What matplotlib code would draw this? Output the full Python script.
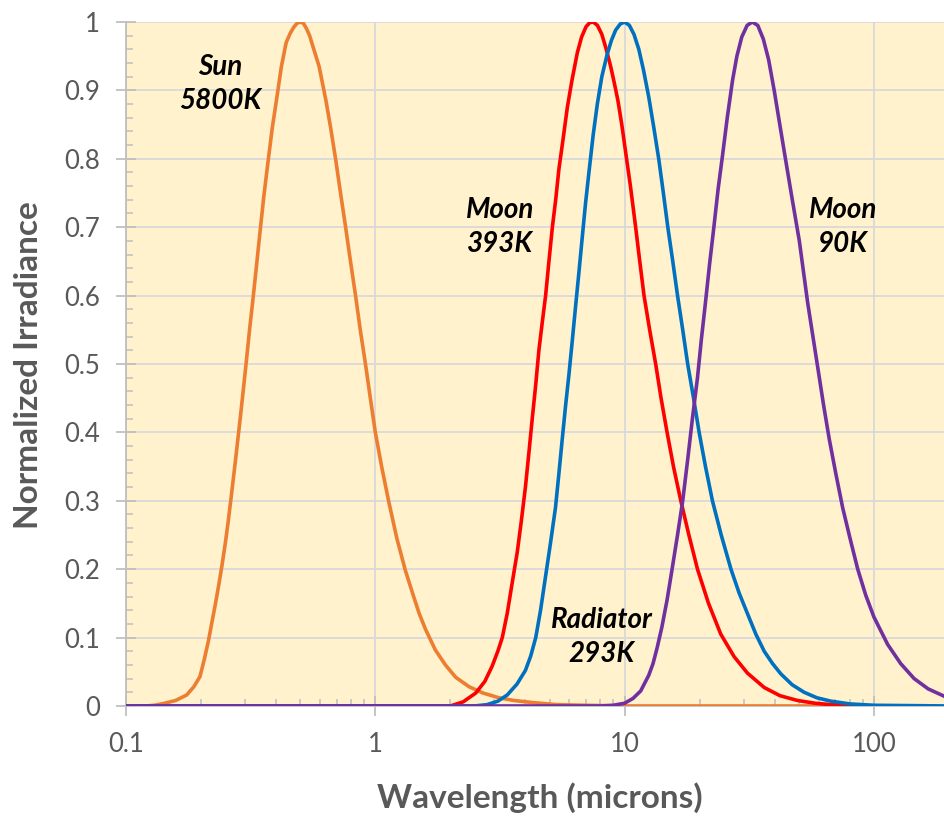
import matplotlib.pyplot as plt
from matplotlib.ticker import FixedLocator, NullFormatter

# normalized blackbody curves, wavelength in microns
sun_wl = [0.10, 0.12, 0.13, 0.143, 0.158, 0.175, 0.187, 0.198, 0.206, 0.214,
          0.221, 0.228, 0.235, 0.242, 0.25, 0.257, 0.265, 0.275, 0.286, 0.295,
          0.304, 0.313, 0.323, 0.334, 0.344, 0.357, 0.371, 0.386, 0.401, 0.42,
          0.439, 0.455, 0.47, 0.485, 0.50, 0.515, 0.53, 0.545, 0.56, 0.595,
          0.633, 0.66, 0.694, 0.725, 0.76, 0.795, 0.833, 0.87, 0.913, 0.955,
          1.0, 1.06, 1.13, 1.22, 1.32, 1.41, 1.5, 1.59, 1.74, 1.91,
          2.1, 2.38, 2.7, 3.13, 3.6, 4.27, 5.3, 7.0, 10.0, 30.0, 100.0]
sun_val = [0.0, 0.0, 0.001, 0.004, 0.008, 0.016, 0.028, 0.043, 0.068, 0.095,
           0.122, 0.148, 0.175, 0.203, 0.237, 0.27, 0.31, 0.36, 0.415, 0.46,
           0.505, 0.55, 0.595, 0.645, 0.69, 0.745, 0.795, 0.845, 0.885, 0.935,
           0.97, 0.983, 0.992, 0.998, 1.0, 0.998, 0.99, 0.98, 0.966, 0.935,
           0.886, 0.848, 0.798, 0.75, 0.70, 0.65, 0.60, 0.55, 0.50, 0.45,
           0.40, 0.35, 0.30, 0.245, 0.198, 0.165, 0.135, 0.112, 0.082, 0.06,
           0.042, 0.028, 0.019, 0.012, 0.008, 0.005, 0.002, 0.001, 0.0, 0.0, 0.0]

moon393_wl = [0.10, 2.0, 2.25, 2.53, 2.75, 2.94, 3.1, 3.23, 3.38, 3.54,
              3.71, 3.85, 4.0, 4.13, 4.26, 4.4, 4.53, 4.67, 4.82, 4.97,
              5.13, 5.29, 5.45, 5.67, 5.89, 6.15, 6.46, 6.72, 7.0, 7.24,
              7.48, 7.78, 8.1, 8.44, 8.79, 9.1, 9.40, 9.74, 10.09, 10.55,
              11.07, 11.5, 11.96, 12.6, 13.32, 14.0, 14.8, 15.7, 16.8, 18.1,
              19.6, 21.7, 24.3, 27.5, 31.1, 36.3, 42.0, 49.4, 58.0, 67.0,
              80.0, 100.0]
moon393_val = [0.0, 0.0, 0.006, 0.019, 0.036, 0.058, 0.08, 0.10, 0.135, 0.18,
               0.225, 0.27, 0.32, 0.37, 0.42, 0.47, 0.52, 0.56, 0.60, 0.65,
               0.70, 0.74, 0.785, 0.83, 0.875, 0.915, 0.955, 0.978, 0.993, 0.999,
               1.0, 0.995, 0.982, 0.96, 0.935, 0.91, 0.885, 0.85, 0.81, 0.76,
               0.70, 0.65, 0.60, 0.55, 0.50, 0.45, 0.40, 0.35, 0.30, 0.25,
               0.20, 0.15, 0.105, 0.072, 0.048, 0.027, 0.015, 0.008, 0.004, 0.002,
               0.001, 0.0]

radiator_wl = [0.10, 2.5, 2.81, 3.1, 3.38, 3.7, 4.0, 4.2, 4.40, 4.6,
               4.82, 5.05, 5.28, 5.45, 5.62, 5.8, 5.98, 6.17, 6.36, 6.56,
               6.76, 6.97, 7.19, 7.48, 7.77, 8.1, 8.5, 8.85, 9.2, 9.6,
               10.0, 10.45, 10.9, 11.4, 11.9, 12.5, 13.1, 13.7, 14.3, 14.9,
               15.6, 16.3, 17.1, 17.9, 18.9, 19.9, 21.1, 22.5, 24.4, 26.7,
               28.8, 31.1, 33.6, 36.3, 39.2, 42.3, 47.0, 52.5, 59.0, 67.2,
               80.0, 100.0, 200.0]
radiator_val = [0.0, 0.0, 0.002, 0.007, 0.016, 0.032, 0.052, 0.073, 0.10, 0.14,
                0.19, 0.24, 0.29, 0.34, 0.39, 0.44, 0.485, 0.535, 0.585, 0.635,
                0.685, 0.735, 0.78, 0.835, 0.88, 0.92, 0.952, 0.973, 0.988, 0.997,
                1.0, 0.995, 0.982, 0.96, 0.93, 0.89, 0.845, 0.80, 0.75, 0.70,
                0.65, 0.60, 0.55, 0.50, 0.45, 0.40, 0.35, 0.30, 0.25, 0.20,
                0.165, 0.135, 0.105, 0.08, 0.062, 0.047, 0.031, 0.020, 0.012, 0.007,
                0.003, 0.001, 0.0]

moon90_wl = [0.10, 8.0, 9.0, 10.0, 10.8, 11.6, 12.5, 13.0, 13.5, 14.1,
             14.8, 15.5, 16.3, 17.1, 17.9, 18.7, 19.6, 20.3, 21.1, 21.9,
             22.8, 23.7, 24.7, 25.8, 27.1, 28.2, 29.5, 31.0, 32.5, 34.2,
             36.0, 37.8, 39.8, 41.7, 43.7, 46.8, 50.2, 54.2, 59.8, 62.8,
             66.2, 70.3, 74.9, 80.2, 86.1, 92.7, 100.0, 113.5, 128.0, 145.0,
             165.0, 192.0]
moon90_val = [0.0, 0.0, 0.001, 0.004, 0.011, 0.022, 0.045, 0.062, 0.085, 0.115,
              0.155, 0.20, 0.25, 0.30, 0.36, 0.42, 0.48, 0.535, 0.59, 0.645,
              0.70, 0.755, 0.805, 0.86, 0.915, 0.95, 0.978, 0.995, 1.0, 0.995,
              0.975, 0.945, 0.90, 0.855, 0.81, 0.745, 0.68, 0.59, 0.49, 0.44,
              0.39, 0.34, 0.29, 0.245, 0.20, 0.162, 0.13, 0.09, 0.062, 0.04,
              0.025, 0.014]

series = [
    (sun_wl, sun_val, '#ED7D31'),
    (moon393_wl, moon393_val, '#FF0000'),
    (radiator_wl, radiator_val, '#0070C0'),
    (moon90_wl, moon90_val, '#7030A0'),
]

labels = [
    ('Sun\n5800K', 0.238, 0.909),
    ('Moon\n393K', 3.16, 0.700),
    ('Radiator\n293K', 8.1, 0.101),
    ('Moon\n90K', 75.2, 0.700),
]

x_ticks = [0.1, 1, 10, 100]
x_ticklabels = ['0.1', '1', '10', '100']
y_ticks = [0, 0.1, 0.2, 0.3, 0.4, 0.5, 0.6, 0.7, 0.8, 0.9, 1]
y_ticklabels = ['0', '0.1', '0.2', '0.3', '0.4', '0.5', '0.6', '0.7', '0.8', '0.9', '1']

plt.rcParams['font.family'] = ['Lato', 'DejaVu Sans']

fig = plt.figure(figsize=(9.44, 8.17), dpi=100)
ax = fig.add_axes([0.1335, 0.1359, 0.8665, 0.8372])
ax.set_facecolor('#FFF2CC')

for wl, val, col in series:
    ax.plot(wl, val, color=col, lw=2.6, solid_joinstyle='round', zorder=3)

ax.set_xscale('log')
ax.set_xlim(0.1, 191)
ax.set_ylim(0, 1)

ax.xaxis.set_major_locator(FixedLocator(x_ticks))
ax.set_xticklabels(x_ticklabels)
minor_x = [m * d for d in [0.1, 1, 10, 100] for m in range(2, 10)]
ax.xaxis.set_minor_locator(FixedLocator(minor_x))
ax.xaxis.set_minor_formatter(NullFormatter())
ax.set_yticks(y_ticks)
ax.set_yticklabels(y_ticklabels)
ax.yaxis.set_minor_locator(FixedLocator([i * 0.02 for i in range(51)]))

grid_col = '#D9D9D9'
ax.grid(True, which='major', color=grid_col, lw=1.3, zorder=0)
ax.set_axisbelow(True)

for side in ['top', 'right']:
    ax.spines[side].set_visible(False)
for side in ['left', 'bottom']:
    ax.spines[side].set_color('#BFBFBF')
    ax.spines[side].set_linewidth(1.3)

ax.tick_params(which='major', direction='inout', length=14, width=1.3,
               color='#BFBFBF', labelcolor='#595959', labelsize=18.5)
ax.tick_params(which='minor', direction='in', length=5, width=1.1, color='#BFBFBF')
ax.tick_params(axis='y', which='major', pad=12)
ax.tick_params(axis='x', which='major', pad=12)

ax.set_xlabel('Wavelength (microns)', fontsize=24, fontweight='bold',
              color='#595959', va='center')
ax.set_ylabel('Normalized Irradiance', fontsize=24, fontweight='bold',
              color='#595959', va='center')
ax.xaxis.set_label_coords(0.506, -0.1345)
ax.yaxis.set_label_coords(-0.1198, 0.4985)

for txt, x, y in labels:
    ax.text(x, y, txt, ha='center', va='center', fontsize=20,
            fontweight='bold', fontstyle='italic', color='black',
            linespacing=1.4, zorder=4)

fig.savefig('out.png', dpi=100)
